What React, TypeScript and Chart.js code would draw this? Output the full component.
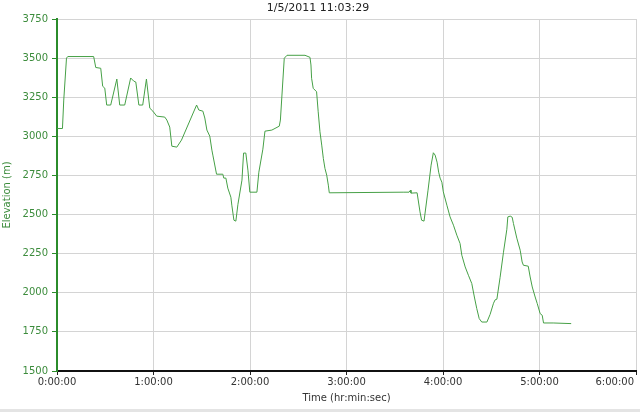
import { useEffect, useRef } from 'react';
import { Chart, registerables } from 'chart.js';

Chart.register(...registerables);

const FONT = '"DejaVu Sans", Verdana, sans-serif';

const chartTitle = '1/5/2011 11:03:29';
const xAxisTitle = 'Time (hr:min:sec)';
const yAxisTitle = 'Elevation (m)';

const xTickLabels = ['0:00:00', '1:00:00', '2:00:00', '3:00:00', '4:00:00', '5:00:00', '6:00:00'];

// elapsed time in minutes
const timeMin = [
  0.2, 3.4, 4.2, 5.9, 6.7, 22.8, 24.1, 27.2, 28.4, 29.7,
  30.9, 33.4, 37.2, 39.0, 42.1, 45.8, 47.7, 49.0, 50.9, 53.3,
  55.6, 57.1, 57.7, 59.6, 62.0, 67.0, 68.3, 70.1, 71.4, 74.5,
  77.4, 86.8, 88.2, 90.7, 91.9, 93.2, 95.0, 96.3, 96.9, 99.2,
  103.1, 103.7, 105.0, 106.2, 108.1, 108.7, 110.0, 111.2, 112.5, 115.0,
  116.0, 117.4, 118.7, 119.9, 124.3, 125.5, 128.0, 129.3, 133.6, 138.2,
  138.9, 141.3, 143.0, 154.2, 157.3, 157.9, 158.3, 159.3, 161.4, 162.4,
  163.5, 164.6, 165.6, 166.6, 167.7, 168.7, 169.3, 215.2, 218.9, 219.8,
  220.1, 223.9, 225.7, 226.7, 228.2, 230.7, 232.6, 234.0, 235.1, 236.3,
  237.3, 238.2, 239.3, 240.2, 242.4, 244.4, 246.5, 248.6, 250.6, 251.7,
  253.8, 255.8, 257.9, 259.5, 261.0, 262.5, 264.1, 267.3, 269.3, 271.4,
  272.4, 273.5, 275.5, 277.6, 279.7, 280.3, 281.8, 283.0, 283.8, 285.9,
  288.0, 289.2, 290.0, 293.0, 294.2, 295.5, 297.3, 298.6, 300.4, 301.7,
  302.5, 308.5, 319.7,
];

// elevation in metres
const elevation = [
  3050, 3050, 3232, 3500, 3510, 3510, 3440, 3435, 3320, 3308,
  3200, 3200, 3366, 3200, 3200, 3373, 3353, 3347, 3200, 3200,
  3366, 3232, 3180, 3161, 3129, 3123, 3104, 3059, 2937, 2931,
  2976, 3200, 3168, 3161, 3117, 3040, 3001, 2912, 2880, 2758,
  2758, 2733, 2733, 2669, 2611, 2560, 2464, 2458, 2566, 2720,
  2893, 2893, 2784, 2643, 2643, 2771, 2918, 3033, 3040, 3065,
  3104, 3499, 3518, 3518, 3505, 3456, 3371, 3307, 3285, 3157,
  3029, 2944, 2859, 2795, 2752, 2688, 2639, 2643, 2643, 2656,
  2637, 2639, 2517, 2464, 2458, 2656, 2816, 2895, 2880, 2835,
  2771, 2733, 2707, 2645, 2560, 2485, 2432, 2368, 2315, 2240,
  2165, 2112, 2059, 1973, 1899, 1835, 1813, 1813, 1862, 1933,
  1955, 1959, 2099, 2259, 2406, 2485, 2490, 2483, 2443, 2349,
  2272, 2197, 2176, 2170, 2101, 2037, 1973, 1931, 1867, 1856,
  1807, 1807, 1803,
];

const GREEN_LINE = '#46a046';
const GREEN_AXIS = '#2b8c2b';
const GREEN_TEXT = '#3c8c3c';
const GRID = '#d4d4d4';
const X_TICK_FONT_SIZE = 10;
const X_TICK_LEN = 4;
const X_TICK_PAD = 1;

export default function App() {
  const ref = useRef<HTMLCanvasElement>(null);

  useEffect(() => {
    document.body.style.margin = '0';
    const canvas = ref.current;
    if (!canvas) return;

    const lastLabelPlugin = {
      id: 'lastXLabel',
      afterDraw(chart: any) {
        const s = chart.scales.x;
        const ctx = chart.ctx;
        const label = xTickLabels[xTickLabels.length - 1];
        ctx.save();
        ctx.font = `${X_TICK_FONT_SIZE}px ${FONT}`;
        ctx.fillStyle = '#333';
        ctx.textAlign = 'center';
        ctx.textBaseline = 'middle';
        const w = ctx.measureText(label).width;
        let x = s.getPixelForValue(s.max);
        x = Math.min(x, chart.width - 6 - w / 2);
        const y = s.top + X_TICK_LEN + X_TICK_PAD + (X_TICK_FONT_SIZE * 1.2) / 2;
        ctx.fillText(label, x, y);
        ctx.fillStyle = '#e4e4e4';
        ctx.fillRect(0, chart.height - 3, chart.width, 3);
        ctx.restore();
      },
    };

    const chart = new Chart(canvas, {
      type: 'line',
      data: {
        datasets: [
          {
            label: yAxisTitle,
            data: timeMin.map((t, i) => ({ x: t, y: elevation[i] })),
            borderColor: GREEN_LINE,
            borderWidth: 1,
            pointRadius: 0,
            fill: false,
            tension: 0,
          },
        ],
      },
      options: {
        responsive: false,
        devicePixelRatio: 1,
        animation: false,
        layout: { padding: { left: 0, right: 4, top: 0, bottom: 0 } },
        plugins: {
          legend: { display: false },
          tooltip: { enabled: false },
          title: {
            display: true,
            text: chartTitle,
            color: '#222',
            font: { family: FONT, size: 11, weight: 'normal', lineHeight: 1 },
            padding: { top: 3, bottom: 5 },
          },
        },
        scales: {
          x: {
            type: 'linear',
            min: 0,
            max: 360,
            ticks: {
              stepSize: 60,
              autoSkip: false,
              maxRotation: 0,
              padding: X_TICK_PAD,
              font: { family: FONT, size: X_TICK_FONT_SIZE },
              color: (c: any) => (c.tick && c.tick.value === 360 ? 'rgba(0,0,0,0)' : '#333'),
              callback: (v: any) => xTickLabels[Math.round(Number(v) / 60)] ?? '',
            },
            grid: { color: GRID, tickColor: '#222', tickLength: X_TICK_LEN, lineWidth: 1 },
            border: { color: '#111', width: 2 },
            title: {
              display: true,
              text: xAxisTitle,
              color: '#333',
              font: { family: FONT, size: 10 },
              padding: { top: 0, bottom: 8 },
            },
            afterFit(scale: any) {
              scale.height = 41;
              scale.paddingRight = 0;
              scale.paddingLeft = 0;
            },
          },
          y: {
            type: 'linear',
            min: 1500,
            max: 3750,
            ticks: {
              stepSize: 250,
              padding: 4,
              font: { family: FONT, size: 10 },
              color: GREEN_TEXT,
              callback: (v: any) => String(v),
            },
            grid: { color: GRID, tickColor: GREEN_AXIS, tickLength: 5, lineWidth: 1 },
            border: { color: GREEN_AXIS, width: 2 },
            title: {
              display: true,
              text: yAxisTitle,
              color: GREEN_TEXT,
              font: { family: FONT, size: 10 },
              padding: { top: 1, bottom: 0 },
            },
            afterFit(scale: any) {
              scale.width = 57;
            },
          },
        },
      },
      plugins: [lastLabelPlugin],
    } as any);

    return () => chart.destroy();
  }, []);

  return <canvas ref={ref} width={640} height={412} style={{ display: 'block' }} />;
}
